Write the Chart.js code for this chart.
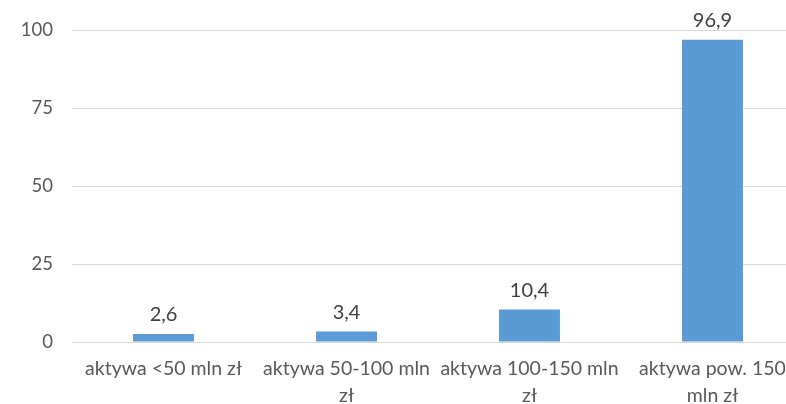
<!DOCTYPE html>
<html><head><meta charset="utf-8">
<script src="https://cdn.jsdelivr.net/npm/chart.js@4/dist/chart.umd.min.js"></script>
<style>
html,body{margin:0;padding:0;background:#fff;overflow:hidden;width:786px;height:404px;}
canvas{display:block;}
</style></head>
<body>
<canvas id="c" width="822" height="404"></canvas>
<script>
const categories = [["aktywa <50 mln zł"], ["aktywa 50-100 mln", "zł"], ["aktywa 100-150 mln", "zł"], ["aktywa pow. 150", "mln zł"]];
const values = [2.6, 3.4, 10.4, 96.9];
const yTicks = [0, 25, 50, 75, 100];

const FONT = "Lato";
const TXT = "#595959";

const valueLabels = {
  id: 'valueLabels',
  afterDatasetsDraw(chart) {
    const ctx = chart.ctx;
    const meta = chart.getDatasetMeta(0);
    ctx.save();
    ctx.font = "20px " + FONT;
    ctx.fillStyle = "#404040";
    ctx.textAlign = "center";
    ctx.textBaseline = "middle";
    meta.data.forEach((bar, i) => {
      const txt = values[i].toFixed(1).replace('.', ',');
      ctx.fillText(txt, bar.x, bar.y - 19);
    });
    ctx.restore();
  }
};

new Chart(document.getElementById('c'), {
  type: 'bar',
  data: {
    labels: categories,
    datasets: [{
      data: values,
      backgroundColor: '#5b9bd5',
      borderWidth: 0,
      barPercentage: 1,
      categoryPercentage: 0.333
    }]
  },
  options: {
    responsive: false,
    devicePixelRatio: 1,
    animation: false,
    layout: { padding: { top: 28, right: 18, left: 0, bottom: 0 } },
    plugins: { legend: { display: false }, tooltip: { enabled: false } },
    scales: {
      x: {
        grid: { display: false },
        border: { display: false },
        ticks: { color: TXT, font: { family: FONT, size: 19.5, lineHeight: 1.385 }, padding: 5, maxRotation: 0, autoSkip: false },
        afterFit(s) { s.height = 62; }
      },
      y: {
        min: 0, max: 100,
        afterBuildTicks(s) { s.ticks = yTicks.map(v => ({ value: v })); },
        grid: { color: '#d9d9d9', lineWidth: 1, drawTicks: false },
        border: { display: false },
        ticks: { color: TXT, font: { family: FONT, size: 18.5 }, padding: 19 },
        afterFit(s) { s.width = 72; }
      }
    }
  },
  plugins: [valueLabels]
});
</script>
</body></html>
